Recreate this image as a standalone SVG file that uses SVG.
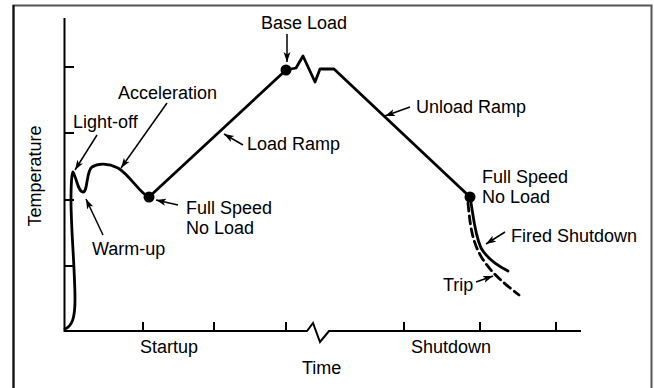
<svg xmlns="http://www.w3.org/2000/svg" width="654" height="388" viewBox="0 0 654 388">
<defs>
<style>
.lbl{font-family:"Liberation Sans",Arial,sans-serif;font-size:18px;fill:#000}
.axis{fill:none;stroke:#000;stroke-width:2}
.curve{fill:none;stroke:#000;stroke-width:2.8;stroke-linejoin:round;stroke-linecap:round}
.arr{fill:none;stroke:#000;stroke-width:1.5;marker-end:url(#ah)}
</style>
<marker id="ah" markerUnits="userSpaceOnUse" markerWidth="11" markerHeight="8" refX="10" refY="4" orient="auto">
<path d="M0,0.5 L10,4 L0,7.5 L2.5,4 z" fill="#000"/>
</marker>
</defs>
<rect width="654" height="388" fill="#fff"/>
<path d="M13.5,390 V5.5 H651.5 V390" fill="none" stroke="#555" stroke-width="2"/>
<line x1="13.5" y1="5" x2="13.5" y2="390" stroke="#111" stroke-width="2"/>

<g id="axes">
<path class="axis" d="M64.5,18 V331 H307 L313,323 L320,342 L329,331 H581"/>
<path class="axis" d="M64.5,67 H74 M64.5,133 H74 M64.5,200 H74 M64.5,266 H74"/>
<path class="axis" d="M143,331 V322 M214,331 V322 M286,331 V322 M404,331 V322 M480,331 V322 M556,331 V322"/>
</g>

<g id="connectors">
<path class="curve" d="M65,329 C72,326 75,318 75,300 C75,270 71,230 71,200 C71,186 71,176 73,172 C76,176 78,192 83,192 C88,192 86,171 92,167 C98,163 108,163 118,168 C130,175 140,194 149,197 L286,70 L296,68 L303,56 L315,82 L320,69 L334,69 L470,197 C473,212 474,232 481,248 C488,260 498,266 508,271"/>
<path class="curve" stroke-dasharray="8,5" d="M468,203 C470,222 471,240 482,258 C492,274 505,284 519,295"/>
<circle cx="149" cy="197" r="5.5"/>
<circle cx="286" cy="70" r="5.5"/>
<circle cx="470" cy="197" r="5.5"/>
<line class="arr" x1="287" y1="34" x2="287" y2="62"/>
<line class="arr" x1="97" y1="135" x2="75" y2="170"/>
<line class="arr" x1="167" y1="103" x2="121" y2="168"/>
<line class="arr" x1="243" y1="145" x2="224" y2="134"/>
<line class="arr" x1="410" y1="107" x2="385" y2="116"/>
<line class="arr" x1="178" y1="205" x2="156" y2="200"/>
<line class="arr" x1="103" y1="235" x2="86" y2="199"/>
<line class="arr" x1="505" y1="232" x2="486" y2="244"/>
<line class="arr" x1="476" y1="282" x2="493" y2="276"/>
</g>

<g id="labels">
<text class="lbl" x="261" y="29">Base Load</text>
<text class="lbl" x="118" y="99">Acceleration</text>
<text class="lbl" x="73" y="128">Light-off</text>
<text class="lbl" x="247" y="150">Load Ramp</text>
<text class="lbl" x="416" y="113">Unload Ramp</text>
<text class="lbl" x="482" y="183">Full Speed</text>
<text class="lbl" x="482" y="203">No Load</text>
<text class="lbl" x="186" y="214">Full Speed</text>
<text class="lbl" x="186" y="234">No Load</text>
<text class="lbl" x="92" y="255">Warm-up</text>
<text class="lbl" x="511" y="242">Fired Shutdown</text>
<text class="lbl" x="443" y="291">Trip</text>
<text class="lbl" x="140" y="353">Startup</text>
<text class="lbl" x="411" y="353">Shutdown</text>
<text class="lbl" x="302" y="374">Time</text>
<text class="lbl" transform="translate(41,176) rotate(-90)" text-anchor="middle">Temperature</text>
</g>
</svg>
